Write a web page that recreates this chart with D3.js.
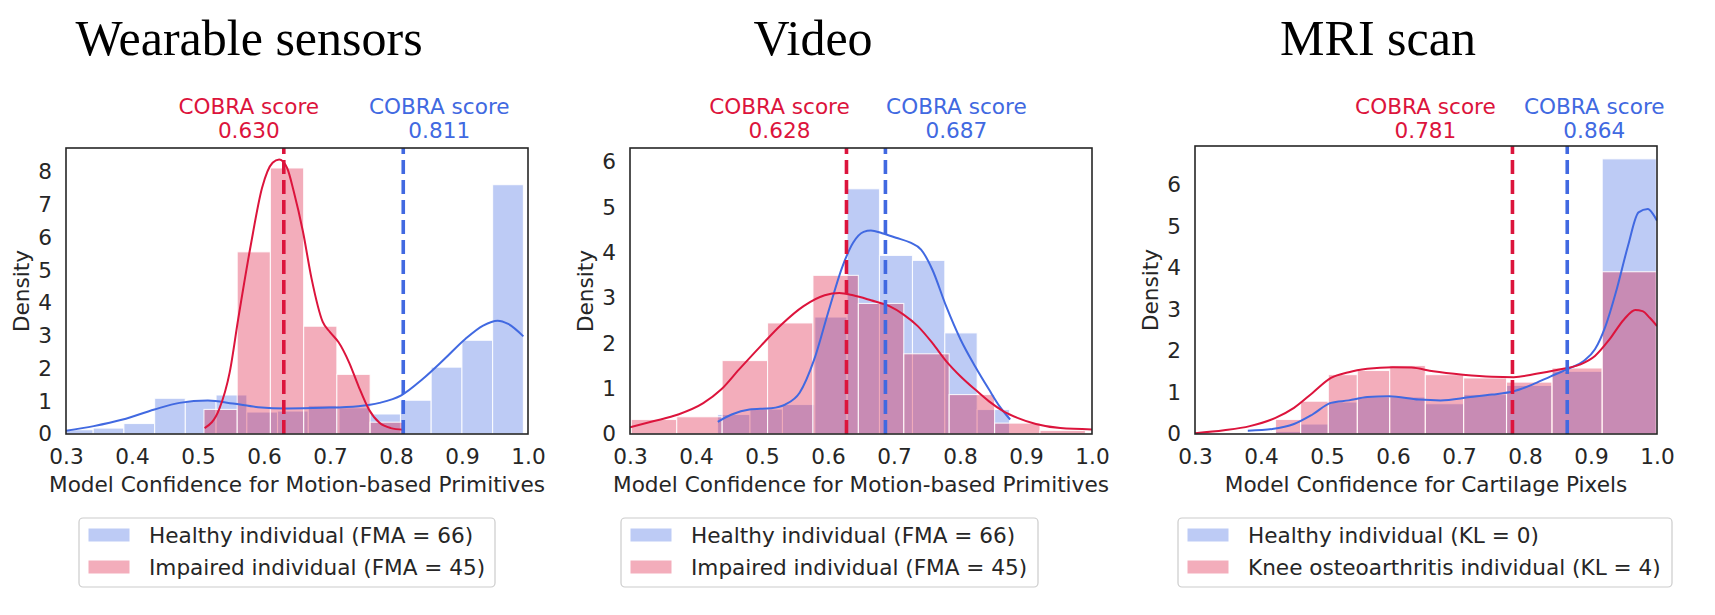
<!DOCTYPE html>
<html>
<head>
<meta charset="utf-8">
<script src="https://cdn.jsdelivr.net/npm/d3@7"></script>
<style>
  body { margin: 0; background: #fff; }
  text { font-family: "DejaVu Sans", sans-serif; fill: #262626; }
</style>
</head>
<body>
<div id="chart-area"></div>
<script>
// ---- data ----
var panelTitles = ["Wearable sensors", "Video", "MRI scan"];
var xLabels = ["Model Confidence for Motion-based Primitives",
               "Model Confidence for Motion-based Primitives",
               "Model Confidence for Cartilage Pixels"];
var legendHealthy = ["Healthy individual (FMA = 66)", "Healthy individual (FMA = 66)", "Healthy individual (KL = 0)"];
var legendImpaired = ["Impaired individual (FMA = 45)", "Impaired individual (FMA = 45)", "Knee osteoarthritis individual (KL = 4)"];
var xTicks = [0.3, 0.4, 0.5, 0.6, 0.7, 0.8, 0.9, 1.0];
var yTicks = [[0,1,2,3,4,5,6,7,8], [0,1,2,3,4,5,6], [0,1,2,3,4,5,6]];
var yMax = [8.73, 6.31, 6.94];
var scoreHealthy = [0.811, 0.687, 0.864];
var scoreImpaired = [0.630, 0.628, 0.781];

// wearable sensors
var wearHealthyEdges = [0.2946,0.3412,0.3877,0.4343,0.4808,0.5274,0.5740,0.6205,0.6671,0.7136,0.7602,0.8068,0.8533,0.8999,0.9464,0.9930];
var wearHealthyDens = [0.13,0.18,0.32,1.09,1.03,1.19,0.67,0.70,0.87,0.80,0.61,1.03,2.04,2.86,7.61];
var wearImpairedEdges = [0.509,0.5594,0.6097,0.6601,0.7104,0.7608,0.8111];
var wearImpairedDens = [0.75,5.56,8.12,3.29,1.82,0.36];
var wearHealthyKdeX = [0.300,0.342,0.386,0.434,0.472,0.515,0.553,0.591,0.635,0.689,0.743,0.775,0.808,0.840,0.873,0.905,0.932,0.954,0.970,0.993];
var wearHealthyKdeY = [0.10,0.24,0.44,0.75,0.95,1.02,0.93,0.82,0.78,0.80,0.85,0.95,1.18,1.67,2.28,2.90,3.31,3.46,3.36,2.98];
var wearImpairedKdeX = [0.510,0.532,0.548,0.561,0.580,0.597,0.613,0.623,0.635,0.645,0.659,0.672,0.689,0.700,0.713,0.729,0.743,0.759,0.775,0.792,0.811];
var wearImpairedKdeY = [0.18,0.75,1.88,3.52,5.77,7.51,8.28,8.38,8.12,7.41,6.18,4.75,3.42,3.11,2.80,2.18,1.47,0.75,0.34,0.18,0.13];

// video
var vidHealthyEdges = [0.4327,0.4818,0.5310,0.5800,0.6290,0.6780,0.7280,0.7770,0.8260,0.8750];
var vidHealthyDens = [0.43,0.55,0.65,2.58,5.41,3.94,3.83,2.23,0.54];
var vidImpairedEdges = [0.302,0.3708,0.4396,0.5084,0.5772,0.6460,0.7148,0.7836,0.8524,0.9212,0.990];
var vidImpairedDens = [0.32,0.38,1.62,2.45,3.50,2.88,1.77,0.87,0.24,0.08];
var vidHealthyKdeX = [0.433,0.454,0.481,0.514,0.535,0.557,0.579,0.600,0.622,0.638,0.654,0.665,0.682,0.703,0.725,0.741,0.758,0.779,0.801,0.823,0.844,0.860,0.876];
var vidHealthyKdeY = [0.27,0.43,0.54,0.57,0.65,0.91,1.64,2.67,3.70,4.22,4.46,4.49,4.43,4.33,4.22,4.07,3.63,2.82,2.08,1.49,0.98,0.61,0.32];
var vidImpairedKdeX = [0.300,0.335,0.373,0.411,0.438,0.465,0.498,0.530,0.563,0.595,0.617,0.638,0.665,0.693,0.714,0.736,0.758,0.779,0.801,0.823,0.844,0.866,0.888,0.915,0.952,1.0];
var vidImpairedKdeY = [0.15,0.28,0.43,0.68,0.98,1.42,1.94,2.42,2.82,3.06,3.11,3.06,2.95,2.82,2.64,2.38,2.01,1.61,1.27,0.98,0.72,0.50,0.35,0.22,0.13,0.10];

// MRI scan
var mriEdges = [0.422,0.460,0.502,0.546,0.595,0.649,0.707,0.772,0.841,0.917,0.999];
var mriHealthyDens = [0.06,0.24,0.77,0.89,0.89,0.73,0.95,1.17,1.51,6.63];
var mriImpairedDens = [0.35,0.79,1.43,1.53,1.65,1.43,1.35,1.25,1.59,3.91];
var mriHealthyKdeX = [0.380,0.417,0.450,0.478,0.506,0.533,0.561,0.594,0.639,0.672,0.717,0.750,0.783,0.811,0.839,0.867,0.889,0.906,0.922,0.939,0.956,0.972,0.986,0.994,1.0];
var mriHealthyKdeY = [0.08,0.12,0.24,0.47,0.75,0.81,0.89,0.91,0.83,0.81,0.89,0.95,1.03,1.19,1.39,1.58,1.76,2.04,2.60,3.49,4.53,5.34,5.42,5.30,5.14];
var mriImpairedKdeX = [0.300,0.344,0.383,0.422,0.450,0.478,0.506,0.533,0.561,0.600,0.628,0.661,0.706,0.750,0.783,0.817,0.850,0.883,0.906,0.928,0.950,0.967,0.978,0.989,1.0];
var mriImpairedKdeY = [0.02,0.09,0.19,0.39,0.63,0.99,1.35,1.49,1.57,1.61,1.60,1.51,1.43,1.38,1.37,1.45,1.55,1.67,1.88,2.28,2.76,2.99,2.96,2.80,2.60];

var panels = [
  {healthyEdges: wearHealthyEdges, healthy: wearHealthyDens, impairedEdges: wearImpairedEdges, impaired: wearImpairedDens,
   hKx: wearHealthyKdeX, hKy: wearHealthyKdeY, iKx: wearImpairedKdeX, iKy: wearImpairedKdeY},
  {healthyEdges: vidHealthyEdges, healthy: vidHealthyDens, impairedEdges: vidImpairedEdges, impaired: vidImpairedDens,
   hKx: vidHealthyKdeX, hKy: vidHealthyKdeY, iKx: vidImpairedKdeX, iKy: vidImpairedKdeY},
  {healthyEdges: mriEdges, healthy: mriHealthyDens, impairedEdges: mriEdges, impaired: mriImpairedDens,
   hKx: mriHealthyKdeX, hKy: mriHealthyKdeY, iKx: mriImpairedKdeX, iKy: mriImpairedKdeY}
];

// ---- layout ----
var axLeft = [66, 630, 1195];
var axTop = [148, 148, 146];
var axW = 462, axBottom = 434;
var labelShiftImpaired = [-35, -67, -87];
var labelShiftHealthy = [36, 71, 27];
var legendBox = [[79, 416], [621, 417], [1178, 494]];

var blue = "royalblue", red = "crimson";
var fontSize = 21.6;

var svg = d3.select("#chart-area").append("svg")
  .attr("width", 1715).attr("height", 615)
  .style("background", "#fff");

panels.forEach(function(p, k) {
  var x = d3.scaleLinear().domain([0.3, 1.0]).range([axLeft[k], axLeft[k] + axW]);
  var y = d3.scaleLinear().domain([0, yMax[k]]).range([axBottom, axTop[k]]);
  var g = svg.append("g");

  g.append("clipPath").attr("id", "clip" + k)
    .append("rect").attr("x", axLeft[k]).attr("y", axTop[k])
    .attr("width", axW).attr("height", axBottom - axTop[k]);
  var plot = g.append("g").attr("clip-path", "url(#clip" + k + ")");

  function bars(edges, dens, color) {
    plot.append("g").selectAll("rect")
      .data(dens).enter().append("rect")
      .attr("x", function(d, i) { return x(edges[i]); })
      .attr("width", function(d, i) { return x(edges[i + 1]) - x(edges[i]); })
      .attr("y", function(d) { return y(d); })
      .attr("height", function(d) { return y(0) - y(d); })
      .attr("fill", color).attr("fill-opacity", 0.35)
      .attr("stroke", "#fff").attr("stroke-opacity", 0.85).attr("stroke-width", 1.1);
  }
  bars(p.healthyEdges, p.healthy, blue);
  bars(p.impairedEdges, p.impaired, red);

  var line = d3.line()
    .x(function(d) { return x(d[0]); })
    .y(function(d) { return y(d[1]); })
    .curve(d3.curveMonotoneX);
  plot.append("path").datum(d3.zip(p.hKx, p.hKy)).attr("d", line)
    .attr("fill", "none").attr("stroke", blue).attr("stroke-width", 2);
  plot.append("path").datum(d3.zip(p.iKx, p.iKy)).attr("d", line)
    .attr("fill", "none").attr("stroke", red).attr("stroke-width", 2);

  // score lines
  [[scoreImpaired[k], red], [scoreHealthy[k], blue]].forEach(function(s) {
    plot.append("line")
      .attr("x1", x(s[0])).attr("x2", x(s[0]))
      .attr("y1", axBottom).attr("y2", axTop[k])
      .attr("stroke", s[1]).attr("stroke-width", 3.6)
      .attr("stroke-dasharray", "14,6");
  });

  // frame
  g.append("rect").attr("x", axLeft[k]).attr("y", axTop[k])
    .attr("width", axW).attr("height", axBottom - axTop[k])
    .attr("fill", "none").attr("stroke", "#262626").attr("stroke-width", 1.6);

  // axes (no tick marks)
  var xAxis = d3.axisBottom(x).tickValues(xTicks).tickSize(0).tickPadding(15)
    .tickFormat(d3.format(".1f"));
  var xg = g.append("g").attr("transform", "translate(0," + axBottom + ")").call(xAxis);
  var yAxis = d3.axisLeft(y).tickValues(yTicks[k]).tickSize(0).tickPadding(14)
    .tickFormat(d3.format("d"));
  var yg = g.append("g").attr("transform", "translate(" + axLeft[k] + ",0)").call(yAxis);
  [xg, yg].forEach(function(a) {
    a.select(".domain").remove();
    a.selectAll("text").attr("font-size", fontSize).attr("font-family", "DejaVu Sans").attr("fill", "#262626");
  });

  var cx = axLeft[k] + axW / 2;
  g.append("text").attr("x", cx).attr("y", 492).attr("text-anchor", "middle")
    .attr("font-size", fontSize).text(xLabels[k]);
  g.append("text").attr("transform", "translate(" + (axLeft[k] - 45) + "," + ((axBottom + axTop[k]) / 2) + ") rotate(-90)")
    .attr("text-anchor", "middle").attr("dominant-baseline", "central")
    .attr("font-size", fontSize).text("Density");

  // title
  g.append("text").attr("x", cx - 48).attr("y", 55).attr("text-anchor", "middle")
    .style("font-family", "'Liberation Serif', serif").attr("font-size", 50).style("fill", "#000")
    .text(panelTitles[k]);

  // score labels
  [[scoreImpaired[k], labelShiftImpaired[k], red], [scoreHealthy[k], labelShiftHealthy[k], blue]].forEach(function(s) {
    var t = g.append("text").attr("text-anchor", "middle").attr("font-size", fontSize).style("fill", s[2]);
    t.append("tspan").attr("x", x(s[0]) + s[1]).attr("y", 114).text("COBRA score");
    t.append("tspan").attr("x", x(s[0]) + s[1]).attr("y", 138).text(s[0].toFixed(3));
  });

  // legend
  var lx = legendBox[k][0], lw = legendBox[k][1];
  var lg = g.append("g");
  lg.append("rect").attr("x", lx).attr("y", 518).attr("width", lw).attr("height", 69)
    .attr("rx", 4).attr("fill", "#fff").attr("stroke", "#cccccc").attr("stroke-width", 1.2);
  [[legendHealthy[k], blue, 528, 543], [legendImpaired[k], red, 560, 575]].forEach(function(e) {
    lg.append("rect").attr("x", lx + 9).attr("y", e[2]).attr("width", 42).attr("height", 14)
      .attr("fill", e[1]).attr("fill-opacity", 0.35).attr("stroke", "#fff");
    lg.append("text").attr("x", lx + 70).attr("y", e[3]).attr("font-size", fontSize).text(e[0]);
  });
});
</script>
</body>
</html>
